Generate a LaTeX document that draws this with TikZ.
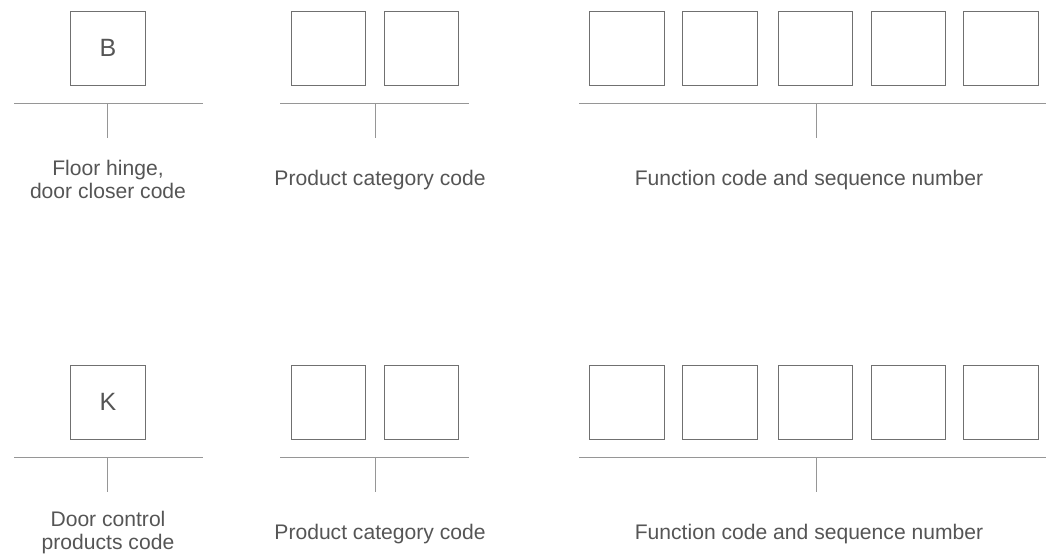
\documentclass[tikz,border=0pt]{standalone}
\usepackage{fontspec}
\setmainfont{Liberation Sans}
\definecolor{boxcol}{RGB}{112,112,112}
\definecolor{barcol}{RGB}{150,150,150}
\definecolor{txtcol}{RGB}{85,85,85}
\begin{document}
\begin{tikzpicture}[x=1pt,y=-1pt,
  cell/.style={draw=boxcol,line width=0.9pt,minimum width=74.5pt,minimum height=74pt,inner sep=0pt},
  bar/.style={draw=barcol,line width=0.9pt},
  letter/.style={text=txtcol,font=\fontsize{25}{28}\selectfont,inner sep=0pt},
  lbl/.style={text=txtcol,font=\fontsize{21.1}{23}\selectfont,align=center,inner sep=0pt}]
\useasboundingbox (0,0) rectangle (1046,557);
\foreach \row/\dy in {t/0,b/354}{
  % group 1
  \node[cell] (\row g1) at (108,48+\dy) {};
  % group 2
  \node[cell] (\row g2a) at (328.5,48+\dy) {};
  \node[cell] (\row g2b) at (421.5,48+\dy) {};
  % group 3
  \node[cell] (\row g3a) at (626.8,48+\dy) {};
  \node[cell] (\row g3b) at (720,48+\dy) {};
  \node[cell] (\row g3c) at (815.2,48+\dy) {};
  \node[cell] (\row g3d) at (908.2,48+\dy) {};
  \node[cell] (\row g3e) at (1001,48+\dy) {};
  % bars
  \coordinate (\row l1) at (14,103.3+\dy);
  \coordinate (\row r1) at (203,103.3+\dy);
  \coordinate (\row m1) at (107.7,103.3+\dy);
  \coordinate (\row e1) at (107.7,138+\dy);
  \coordinate (\row l2) at (280,103.3+\dy);
  \coordinate (\row r2) at (469.3,103.3+\dy);
  \coordinate (\row m2) at (375,103.3+\dy);
  \coordinate (\row e2) at (375,138+\dy);
  \coordinate (\row l3) at (579.3,103.3+\dy);
  \coordinate (\row r3) at (1046,103.3+\dy);
  \coordinate (\row m3) at (816.7,103.3+\dy);
  \coordinate (\row e3) at (816.7,138+\dy);
  \draw[bar] (\row l1) -- (\row r1);
  \draw[bar] (\row m1) -- (\row e1);
  \draw[bar] (\row l2) -- (\row r2);
  \draw[bar] (\row m2) -- (\row e2);
  \draw[bar] (\row l3) -- (\row r3);
  \draw[bar] (\row m3) -- (\row e3);
  \node[lbl] (\row lab2) at (380,180+\dy) {Product category code};
  \node[lbl] (\row lab3) at (809,180+\dy) {Function code and sequence number};
}
\node[letter] (tletter) at (tg1) {B};
\node[letter] (bletter) at (bg1) {K};
\node[lbl] (tlab1) at (108,179) {Floor hinge,\\door closer code};
\node[lbl] (blab1) at (108,533) {Door control\\products code};
\end{tikzpicture}
\end{document}
